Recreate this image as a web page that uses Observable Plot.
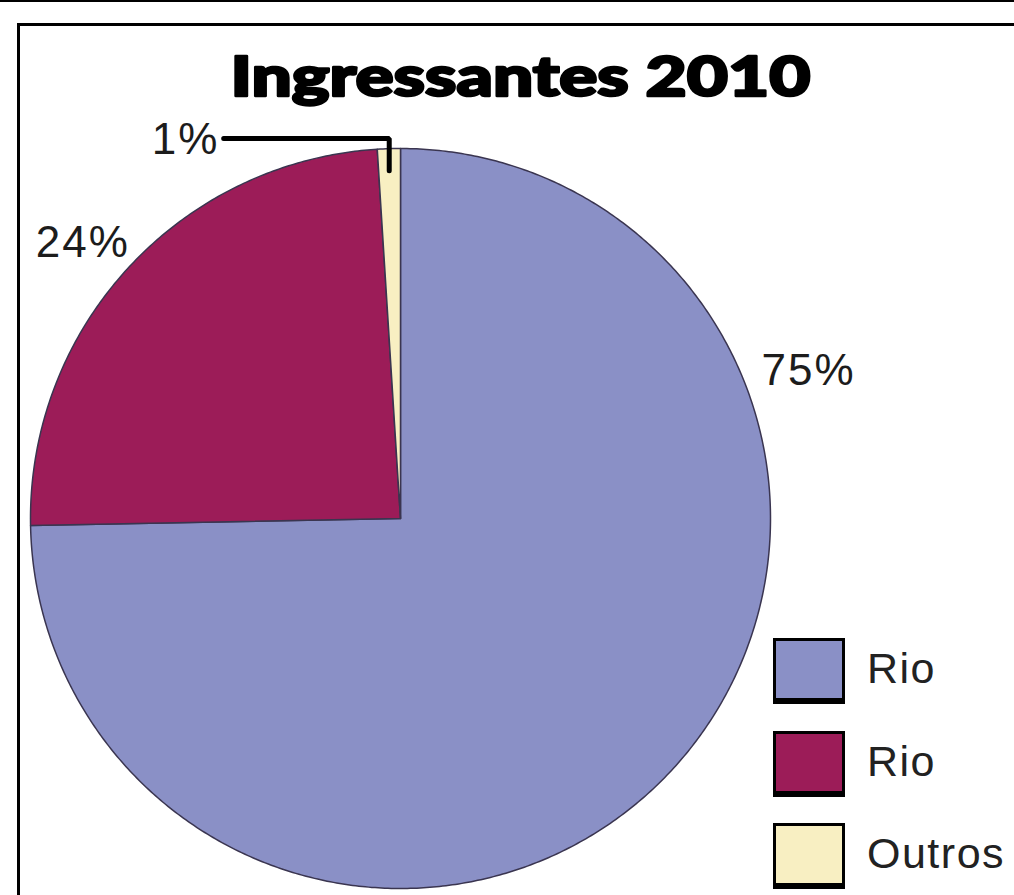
<!DOCTYPE html>
<html>
<head>
<meta charset="utf-8">
<script src="https://cdn.jsdelivr.net/npm/d3@7"></script>
<script src="https://cdn.jsdelivr.net/npm/@observablehq/plot@0.6"></script>
<style>
  html, body { margin: 0; padding: 0; background: #fff; }
  #page { position: relative; width: 1014px; height: 895px; overflow: hidden; background: #fff; }
  #topline { position: absolute; left: 0; top: 0; width: 1014px; height: 2px; background: #000; }
  #box { position: absolute; left: 17px; top: 23px; width: 1100px; height: 1000px; border: 3px solid #000; box-sizing: border-box; }
  #chart { position: absolute; left: 0; top: 0; }
  #legend { position: absolute; left: 773px; top: 638px; font-family: "Liberation Sans", Arial, sans-serif; }
  .row { position: relative; height: 92.5px; }
  .sw { position: absolute; left: 0; top: 0; width: 72px; height: 66px; box-sizing: border-box; border: 3px solid #000; border-bottom-width: 6px; }
  .lb { position: absolute; left: 94px; top: 30px; transform: translateY(-50%); font-size: 43px; color: #222; letter-spacing: 1.5px; white-space: nowrap; line-height: 1; }
</style>
</head>
<body>
<div id="page">
  <div id="topline"></div>
  <div id="box"></div>
  <div id="chart"></div>
  <div id="legend"></div>
</div>
<script>
// ---- data ----
const title = "Ingressantes 2010";
const categories = ["Rio", "Rio", "Outros"];
const values = [74.7, 24.3, 1.0];
const colors = ["#8a90c6", "#9c1c58", "#f8efc2"];

// ---- layout (label placement: angle in degrees clockwise from top, radius in pie radii) ----
const labelAngle = [70.1, 310.9, 330.4];
const labelRadius = [1.173, 1.136, 1.176];

const total = d3.sum(values);
const arcs = d3.pie().sort(null).value(d => d)(values);

// slice polygons built from the pie angles
const slicePts = [];
arcs.forEach((a, i) => {
  slicePts.push({i, x: 0, y: 0});
  const n = Math.max(4, Math.ceil((a.endAngle - a.startAngle) / (Math.PI / 360)));
  for (let k = 0; k <= n; k++) {
    const t = a.startAngle + (a.endAngle - a.startAngle) * k / n;
    slicePts.push({i, x: Math.sin(t), y: Math.cos(t)});
  }
});

const labels = values.map((v, i) => {
  const t = labelAngle[i] * Math.PI / 180;
  return {i, text: Math.round(v / total * 100) + "%", x: Math.sin(t) * labelRadius[i], y: Math.cos(t) * labelRadius[i]};
});

// leader line for the smallest slice
const small = arcs[2];
const mid = (small.startAngle + small.endAngle) / 2;
const lx = Math.sin(mid) * 0.97;
const ly = 1.027;
const leader = [
  {x: labels[2].x + 0.103, y: ly},
  {x: lx, y: ly},
  {x: lx, y: 0.94}
];

const plot = Plot.plot({
  width: 1014,
  height: 895,
  margin: 0,
  x: {domain: [-1, 1], range: [30, 770], axis: null},
  y: {domain: [-1, 1], range: [888, 148], axis: null},
  color: {type: "ordinal", domain: [0, 1, 2], range: colors},
  style: {background: "transparent", overflow: "visible"},
  marks: [
    Plot.line(slicePts, {x: "x", y: "y", z: "i", fill: "i", stroke: "#3a3550", strokeWidth: 1.5, curve: "linear-closed"}),
    Plot.line(leader, {x: "x", y: "y", stroke: "#000", strokeWidth: 5, strokeLinejoin: "miter"}),
    Plot.text(labels, {x: "x", y: "y", text: "text", fill: "#1c1c1c", fontSize: 44, fontFamily: "Liberation Sans, Arial, sans-serif", lineAnchor: "middle", textAnchor: "middle", className: "pct"}),
    Plot.text([title], {text: d => d, frameAnchor: "top", dx: 13, dy: 95, lineAnchor: "bottom", fontSize: 56, fontWeight: 900, fontFamily: "Lato, DejaVu Sans, sans-serif", fill: "#000", stroke: "#000", strokeWidth: 2.5, className: "ttl"})
  ]
});
document.getElementById("chart").appendChild(plot);
d3.select(plot).selectAll("g.ttl text").attr("textLength", 580).attr("lengthAdjust", "spacingAndGlyphs");
d3.select(plot).selectAll("g.pct text").attr("letter-spacing", "2px");

// legend
const legend = d3.select("#legend");
categories.forEach((c, i) => {
  const row = legend.append("div").attr("class", "row");
  row.append("div").attr("class", "sw").style("background", colors[i]);
  row.append("div").attr("class", "lb").text(c);
});
</script>
</body>
</html>
